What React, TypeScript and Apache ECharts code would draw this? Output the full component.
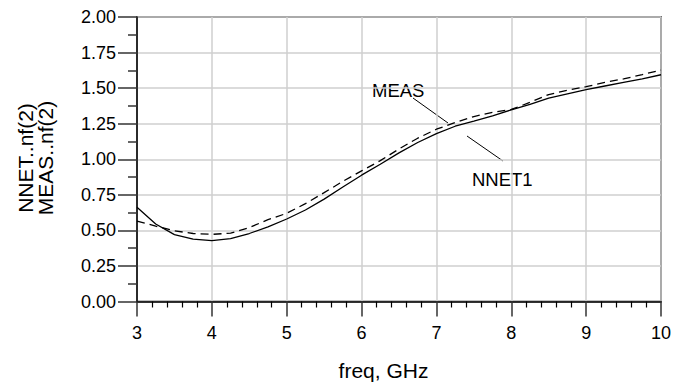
import React, { useEffect, useRef } from "react";
import * as echarts from "echarts";

const freq = [3.0, 3.25, 3.5, 3.75, 4.0, 4.25, 4.5, 4.75, 5.0, 5.25, 5.5, 5.75, 6.0, 6.25, 6.5, 6.75, 7.0, 7.25, 7.5, 7.75, 8.0, 8.25, 8.5, 8.75, 9.0, 9.25, 9.5, 9.75, 10.0];
const nnet = [0.662, 0.545, 0.47, 0.438, 0.428, 0.442, 0.478, 0.525, 0.58, 0.643, 0.72, 0.805, 0.888, 0.965, 1.045, 1.118, 1.18, 1.232, 1.268, 1.305, 1.347, 1.385, 1.43, 1.46, 1.49, 1.515, 1.54, 1.565, 1.594];
const meas = [0.565, 0.53, 0.497, 0.478, 0.472, 0.48, 0.52, 0.575, 0.62, 0.688, 0.765, 0.845, 0.918, 0.99, 1.072, 1.148, 1.211, 1.258, 1.3, 1.33, 1.35, 1.4, 1.455, 1.485, 1.51, 1.54, 1.565, 1.595, 1.627];

const FONT = "Liberation Sans, Arial, sans-serif";

export default function App() {
  const ref = useRef<HTMLDivElement>(null);
  useEffect(() => {
    if (!ref.current) return;
    const chart = echarts.init(ref.current, null, { renderer: "svg" });
    chart.setOption({
      animation: false,
      backgroundColor: "#fff",
      grid: {
        left: 137,
        top: 17,
        right: 12,
        bottom: 83.5,
        show: true,
        borderColor: "#000",
        borderWidth: 1.5,
      },
      xAxis: {
        type: "value",
        min: 3,
        max: 10,
        interval: 1,
        axisLine: { show: true, lineStyle: { color: "#000", width: 1.5 } },
        axisTick: { show: true, length: 15, lineStyle: { color: "#333", width: 1.5 } },
        minorTick: { show: true, splitNumber: 5, length: 6, lineStyle: { color: "#000", width: 1.2 } },
        splitLine: { show: true, lineStyle: { color: "#cfcfcf", width: 1.5 } },
        axisLabel: { color: "#000", fontSize: 18, fontFamily: FONT, margin: 22 },
      },
      yAxis: {
        type: "value",
        min: 0,
        max: 2,
        interval: 0.25,
        axisLine: { show: true, lineStyle: { color: "#000", width: 1.5 } },
        axisTick: { show: true, length: 19, lineStyle: { color: "#333", width: 1.5 } },
        minorTick: { show: true, splitNumber: 2, length: 9, lineStyle: { color: "#333", width: 1.5 } },
        splitLine: { show: true, lineStyle: { color: "#cfcfcf", width: 1.5 } },
        axisLabel: {
          color: "#000",
          fontSize: 18,
          fontFamily: FONT,
          margin: 21,
          formatter: (v: number) => v.toFixed(2),
        },
      },
      series: [
        {
          name: "NNET1",
          type: "line",
          data: freq.map((f, i) => [f, nnet[i]]),
          showSymbol: false,
          symbol: "none",
          lineStyle: { color: "#000", width: 1.3, type: "solid" },
        },
        {
          name: "MEAS",
          type: "line",
          data: freq.map((f, i) => [f, meas[i]]),
          showSymbol: false,
          symbol: "none",
          lineStyle: { color: "#000", width: 1.3, type: [8, 5] },
        },
      ],
      graphic: [
        {
          type: "text",
          x: 383.5,
          y: 370,
          style: { text: "freq, GHz", fontSize: 21, fontFamily: FONT, fill: "#000", textAlign: "center", textVerticalAlign: "middle" },
        },
        {
          type: "text",
          x: 25,
          y: 158,
          rotation: Math.PI / 2,
          style: { text: "NNET..nf(2)", fontSize: 21, fontFamily: FONT, fill: "#000", textAlign: "center", textVerticalAlign: "middle" },
        },
        {
          type: "text",
          x: 45,
          y: 158,
          rotation: Math.PI / 2,
          style: { text: "MEAS..nf(2)", fontSize: 21, fontFamily: FONT, fill: "#000", textAlign: "center", textVerticalAlign: "middle" },
        },
        {
          type: "text",
          x: 372,
          y: 90,
          style: { text: "MEAS", fontSize: 18.5, fontFamily: FONT, fill: "#000", textAlign: "left", textVerticalAlign: "middle" },
        },
        {
          type: "line",
          shape: { x1: 413, y1: 98, x2: 448, y2: 123 },
          style: { stroke: "#000", lineWidth: 1 },
        },
        {
          type: "text",
          x: 472,
          y: 179,
          style: { text: "NNET1", fontSize: 18.5, fontFamily: FONT, fill: "#000", textAlign: "left", textVerticalAlign: "middle" },
        },
        {
          type: "line",
          shape: { x1: 467, y1: 136, x2: 503, y2: 161 },
          style: { stroke: "#000", lineWidth: 1 },
        },
      ],
    });
    return () => chart.dispose();
  }, []);
  return (
    <div
      ref={ref}
      style={{ position: "fixed", left: 0, top: 0, width: 674, height: 385 }}
    />
  );
}
